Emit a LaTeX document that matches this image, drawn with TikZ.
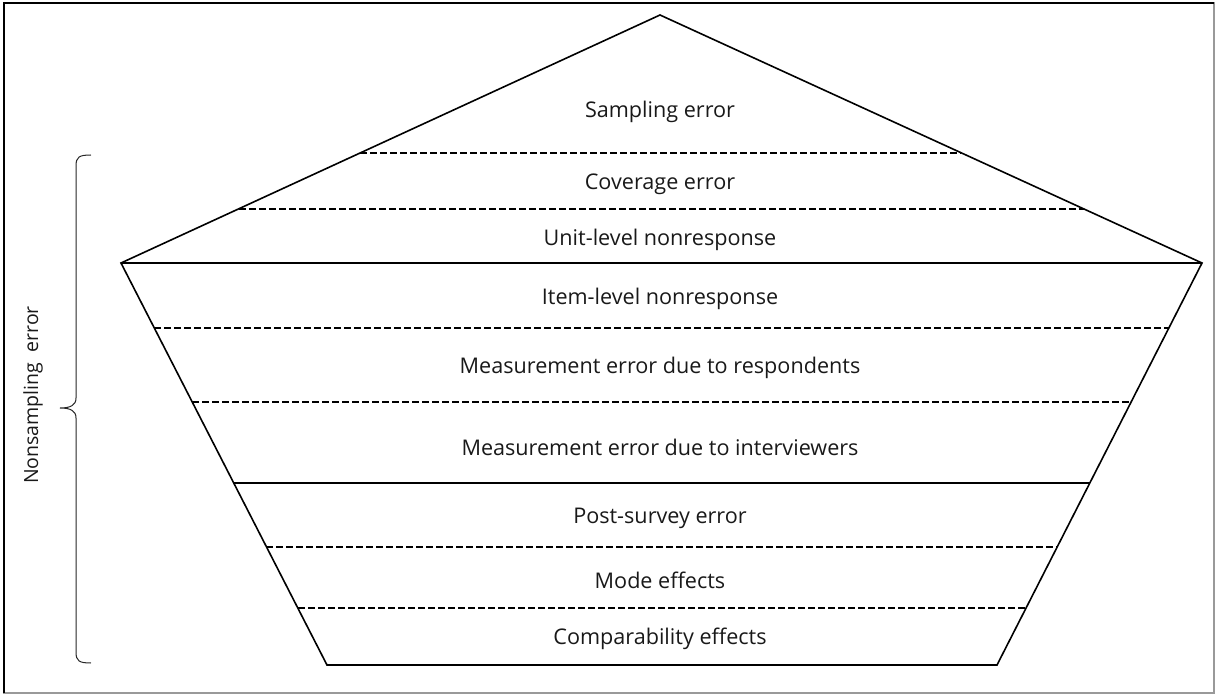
\documentclass[tikz,border=0pt]{standalone}
\usepackage{fontspec}
\setmainfont{Open Sans}
\usetikzlibrary{calc}
\begin{document}
\begin{tikzpicture}[x=1pt,y=-1pt,
  outline/.style={line width=1.6pt,line join=miter},
  divider/.style={line width=2.8pt},
  sep/.style={line width=1.5pt,dash pattern=on 7pt off 3pt},
  lbl/.style={font=\fontsize{21.6}{26}\selectfont,inner sep=0pt,anchor=center,text=black!90},
  sidelbl/.style={font=\fontsize{19.5}{23}\selectfont,inner sep=0pt,anchor=center,text=black!90},
  bracestyle/.style={line width=1pt,draw=black!85}]
\useasboundingbox (0,0) rectangle (1216,695);
% frame
\draw[line width=1.2pt,draw=black!40] (4,3) rectangle (1214,693);
\draw[line width=2.4pt] (4,693) -- (4,3) -- (1214,3);

% outline vertices
\coordinate (A) at (660,15);
\coordinate (L) at (121,263);
\coordinate (R) at (1202,263);
\coordinate (BL) at (327,665);
\coordinate (BR) at (997,665);
\draw[outline] (L) -- (A) -- (R) -- (BR) -- (BL) -- cycle;

% boundary points of the bands
\coordinate (u1l) at (360,153);  \coordinate (u1r) at (961,153);
\coordinate (u2l) at (239,209);  \coordinate (u2r) at (1084,209);
\coordinate (m1l) at (154,328);  \coordinate (m1r) at (1169,328);
\coordinate (m2l) at (192,402);  \coordinate (m2r) at (1131,402);
\coordinate (t2l) at (234,483);  \coordinate (t2r) at (1090,483);
\coordinate (p1l) at (266,547);  \coordinate (p1r) at (1057,547);
\coordinate (p2l) at (298,608);  \coordinate (p2r) at (1026,608);

\draw[divider] (L) -- (R);
\draw[divider] (t2l) -- (t2r);
\draw[sep] (u1l) -- (u1r);
\draw[sep] (u2l) -- (u2r);
\draw[sep] (m1l) -- (m1r);
\draw[sep] (m2l) -- (m2r);
\draw[sep] (p1l) -- (p1r);
\draw[sep] (p2l) -- (p2r);

% band labels
\node[lbl] (s1) at (660,112) {Sampling error};
\node[lbl] (s2) at (660,184) {Coverage error};
\node[lbl] (s3) at (660,240) {Unit-level nonresponse};
\node[lbl] (s4) at (660,299) {Item-level nonresponse};
\node[lbl] (s5) at (660,368) {Measurement error due to respondents};
\node[lbl] (s6) at (660,447) {Measurement error due to interviewers};
\node[lbl] (s7) at (660,518) {Post-survey error};
\node[lbl] (s8) at (660,580) {Mode effects};
\node[lbl] (s9) at (660,639) {Comparability effects};

% brace for nonsampling error
\draw[bracestyle] (91,155) .. controls (79,155) and (76,157) .. (76,166)
  -- (76,398) .. controls (76,405) and (71,408) .. (60,408)
  .. controls (71,408) and (76,411) .. (76,418)
  -- (76,652) .. controls (76,661) and (79,663) .. (91,663);
\node[sidelbl,rotate=90] (ns) at (33,395) {Nonsampling\ \ error};
\end{tikzpicture}
\end{document}
